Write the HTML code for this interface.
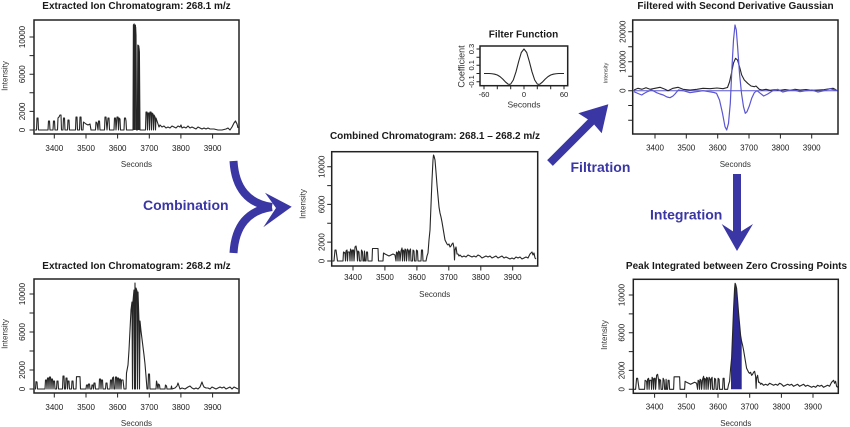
<!DOCTYPE html>
<html><head><meta charset="utf-8"><style>
html,body{margin:0;padding:0;background:#fff;}
svg{display:block;}
text{font-family:"Liberation Sans",Arial,sans-serif;fill:#1a1a1a;}
.t{font-weight:bold;font-size:10px;text-anchor:middle;}
.tk{font-size:8px;text-anchor:middle;fill:#333;}
.box{fill:none;stroke:#222;stroke-width:1.5;}
.ax{stroke:#222;stroke-width:1;fill:none;}
.d{fill:none;stroke:#262626;stroke-width:1.1;stroke-linejoin:round;}
.arrowtxt{font-weight:bold;font-size:14px;fill:#3a36a4;}
</style></head><body>
<svg width="850" height="427" viewBox="0 0 850 427" xmlns="http://www.w3.org/2000/svg">
<rect width="850" height="427" fill="#fff"/>

<!-- ===== Panel 1 (top-left) ===== -->
<text class="t" x="136.5" y="9">Extracted Ion Chromatogram: 268.1 m/z</text>
<path class="d" d="M35,130 L36.5,130 L37,118 L38,118 L38.5,130 L48,130 L48.5,121 L49.5,121 L50,130 L53,130 L53.5,121 L54.5,121 L55,130 L57.5,130 L58,118 L59,117 L60,115 L61,115 L61.5,130 L63,130 L63.5,118 L64.5,118 L65,130 L67.5,130 L68,120 L69,120 L69.5,130 L75.5,130 L76,117 L77,117 L77.5,130 L79.5,130 L80,117 L81,117 L81.5,130 L83,130 L83.5,122 L86,124 L88,125 L90,124 L91,130 L95.5,130 L96,122 L97,123 L98,130 L98.5,121 L99.5,121 L100,130 L104.5,130 L105,117 L106,117 L107,130 L108,118 L109,118 L109.5,130 L114,130 L114.5,118 L115.5,118 L116,130 L117,117 L118,117 L118.5,130 L119,118 L120,119 L120.5,130 L124,130 L124.5,118 L125.5,118 L126,121 L126.5,130 L133,130 L133.4,25 L134.2,24 L134.8,30 L135.4,25 L136,35 L136.5,130 L137.4,130 L137.8,45 L138.8,46 L139.4,52 L140,130 L145.5,130 L146,112 L147,112 L147.5,130 L148,113 L149,113 L149.5,130 L150,112 L151,112 L151.5,130 L152,113 L153,114 L153.5,130 L154,115 L155,117 L155.5,130 L156,118 L157,121 L158,124 L159,127 L160,125 L162,127 L164,126 L166,128 L168,127 L170,128 L172,126 L174,127 L176,128 L178,126 L180,127 L181,125 L182,128 L184,127 L186,128 L188,126 L190,128 L192,127 L194,128 L196,129 L198,127 L200,128 L202,129 L204,128 L206,129 L208,128 L210,129 L214,129 L218,130 L222,130 L226,129 L228,128 L230,130 L232,127 L234,123 L235.5,121 L237,124 L238,128"/>
<path class="d" d="M133.6,130 L134,26 M134.6,130 L135,28 M135.3,130 L135.6,27 M138.2,130 L138.4,46 M139,130 L139,48" />
<rect class="box" x="34" y="20" width="205" height="114"/>
<path class="ax" d="M54.3,134v4.5 M86,134v4.5 M117.6,134v4.5 M149.3,134v4.5 M180.9,134v4.5 M212.6,134v4.5 M34,130h-4.5 M34,111.4h-4.5 M34,92.8h-4.5 M34,74.2h-4.5 M34,55.6h-4.5 M34,37h-4.5"/>
<g class="tk"><text x="54.3" y="151">3400</text><text x="86" y="151">3500</text><text x="117.6" y="151">3600</text><text x="149.3" y="151">3700</text><text x="180.9" y="151">3800</text><text x="212.6" y="151">3900</text></g>
<text class="tk" x="136.5" y="167">Seconds</text>
<g class="tk"><text transform="translate(25,130) rotate(-90)">0</text><text transform="translate(25,111.4) rotate(-90)">2000</text><text transform="translate(25,74.2) rotate(-90)">6000</text><text transform="translate(25,37) rotate(-90)">10000</text></g>
<text class="tk" transform="translate(7.5,76) rotate(-90)">Intensity</text>

<!-- ===== Panel 2 (bottom-left) ===== -->
<text class="t" x="136.5" y="269">Extracted Ion Chromatogram: 268.2 m/z</text>
<path class="d" d="M35,389 L35.5,389 L36,381.7 L37,382 L37.5,389 L45,389 L45.5,380 L46.5,380 L47,389 L47.5,378 L48.5,378 L49,389 L49.5,377 L50.5,377 L51,389 L51.5,379 L52.5,379 L53,389 L53.5,381 L54.5,381 L55,389 L56.5,389 L57,381 L58,381 L58.5,389 L62.5,389 L63,376 L64,376 L64.5,389 L65.5,389 L66,378 L67,378 L67.5,389 L68,381 L69,381 L69.5,389 L71.5,389 L72,381 L73,381 L73.5,389 L76,389 L76.5,376.7 L80,376.7 L80.5,389 L86,389 L86.5,385 L87.5,385 L88,389 L88.5,384 L89.5,384 L90,389 L91.5,389 L92,385 L93,385 L93.5,389 L94,383 L95,383 L95.5,389 L99,389 L99.5,379 L100.5,379 L101,389 L101.5,380 L102.5,380 L103,389 L105.5,389 L106,383 L107,383 L107.5,389 L110,389 L110.5,380 L111.5,380 L112,389 L112.5,378 L113.5,377 L114,389 L115,389 L115.5,377 L116.5,377 L117,389 L117.5,378 L118.5,378 L119,389 L119.5,379 L120.5,379 L121,389 L121.5,380 L123,380 L124,389 L126,389 L126.5,373 L128,365 L129,350 L130,330 L131,310 L132,302 L132.5,389 L133,301 L134,290 L134.5,389 L135,283 L135.5,389 L136,288 L137,291 L137.5,389 L138,292 L139,322 L139.5,389 L140,321 L141,331 L142,339 L143,347 L144,355 L145,364 L146,376 L147,389 L148,389 L148.5,374 L149.5,374 L150,389 L156,389 L156.5,381 L157,383 L158,389 L158.5,384 L159.5,385 L160,389 L165,389 L165.5,385 L166.5,386 L167,389 L171,389 L171.5,386 L172,389 L175,388 L177,386 L178,383 L179,386 L180,389 L182,388 L185,389 L188,387 L190,386 L192,388 L194,389 L196,388 L198,389 L200,387 L202,382 L203,385 L204,387 L206,388 L208,388 L210,389 L212,387 L214,388 L216,389 L218,388 L220,387 L222,388 L224,387 L226,389 L228,388 L230,387 L232,389 L234,387 L236,388 L238,389"/>
<rect class="box" x="34" y="279" width="205" height="114"/>
<path class="ax" d="M54.3,393v4.5 M86,393v4.5 M117.6,393v4.5 M149.3,393v4.5 M180.9,393v4.5 M212.6,393v4.5 M34,389h-4.5 M34,370h-4.5 M34,351h-4.5 M34,332h-4.5 M34,313h-4.5 M34,294h-4.5"/>
<g class="tk"><text x="54.3" y="410">3400</text><text x="86" y="410">3500</text><text x="117.6" y="410">3600</text><text x="149.3" y="410">3700</text><text x="180.9" y="410">3800</text><text x="212.6" y="410">3900</text></g>
<text class="tk" x="136.5" y="426">Seconds</text>
<g class="tk"><text transform="translate(25,389) rotate(-90)">0</text><text transform="translate(25,370) rotate(-90)">2000</text><text transform="translate(25,332) rotate(-90)">6000</text><text transform="translate(25,294) rotate(-90)">10000</text></g>
<text class="tk" transform="translate(7.5,334) rotate(-90)">Intensity</text>

<!-- ===== Panel 3 (middle) ===== -->
<text class="t" x="435" y="139">Combined Chromatogram: 268.1 – 268.2 m/z</text>
<path id="comb" class="d" d="M332.5,261 L334,261 L335,250 L336,250 L337.5,261 L343,261 L343.5,252 L345,253 L345.5,261 L346,251 L347,250 L347.5,261 L348,252 L349.5,252 L350,261 L350.5,249 L351.5,251 L352,261 L352.5,250 L353.5,250 L354,261 L355,247 L356,246 L357,252 L357.5,261 L358,251 L359,252 L359.5,261 L361,261 L361.5,250 L362.5,252 L363,261 L364,261 L364.5,251 L365,261 L366,261 L366.5,252 L367.5,252 L368,261 L372,261 L372.5,248.5 L378,248.5 L378.5,261 L383,261 L383.5,253 L385,254 L387,255 L389,256 L391,255 L393,254 L395,255 L396,261 L396.5,252 L397.5,253 L398,261 L398.5,251 L399.5,252 L400,261 L401,251 L402,248 L402.5,261 L403,250 L404,251 L404.5,261 L405,249 L406,250 L406.5,261 L407.5,249 L408.5,251 L409,261 L409.5,251 L410.5,249 L411,261 L412.5,261 L413,250 L414,251 L414.5,261 L416,261 L416.5,250 L417.5,251 L418,261 L421,261 L421.5,250 L422.5,250 L423,261 L426,261 L427,256 L428,253 L429,240 L430,230 L431,205 L432,180 L433,160 L433.5,155 L434,156 L435,160 L436,172 L437,185 L438,196 L439,207 L440,213 L441,217 L442,222 L443,228 L444,234 L445,240 L446,242 L447,244 L448,245 L449,244 L450,247 L451,246 L452,244 L453,243 L454,248 L454.5,260 L455,250 L456,247 L457,254 L458,254 L459,256 L460,255 L462,257 L464,256 L466,257 L468,255 L470,256 L472,257 L474,256 L476,257 L478,255 L480,256 L482,258 L484,257 L486,256 L488,257 L490,256 L492,258 L494,257 L496,256 L498,258 L500,257 L502,256 L504,258 L506,257 L508,258 L510,259 L512,258 L514,259 L516,257 L518,258 L520,257 L522,259 L524,258 L526,257 L528,258 L530,254 L532,252 L533,255 L534,253 L535,258 L536,259"/>
<rect class="box" x="331.7" y="151.7" width="206" height="114.3"/>
<path class="ax" d="M353,266v4.5 M384.9,266v4.5 M416.9,266v4.5 M448.8,266v4.5 M480.8,266v4.5 M512.7,266v4.5 M331.7,261h-4.5 M331.7,242.1h-4.5 M331.7,223.3h-4.5 M331.7,204.4h-4.5 M331.7,185.6h-4.5 M331.7,166.7h-4.5"/>
<g class="tk"><text x="353" y="280">3400</text><text x="384.9" y="280">3500</text><text x="416.9" y="280">3600</text><text x="448.8" y="280">3700</text><text x="480.8" y="280">3800</text><text x="512.7" y="280">3900</text></g>
<text class="tk" x="434.7" y="297">Seconds</text>
<g class="tk"><text transform="translate(324.5,261) rotate(-90)">0</text><text transform="translate(324.5,242.1) rotate(-90)">2000</text><text transform="translate(324.5,204.4) rotate(-90)">6000</text><text transform="translate(324.5,166.7) rotate(-90)">10000</text></g>
<text class="tk" transform="translate(305.5,204) rotate(-90)">Intensity</text>

<!-- ===== Filter function inset ===== -->
<text class="t" x="523.5" y="37.5">Filter Function</text>
<path class="d" d="M484,73.5 L486.7,73.5 L489.3,73.5 L492,73.75 L494.7,74.2 L497.3,75 L500,76.6 L502.7,79 L505.3,81.8 L508,84.1 L509.3,84.4 L510.7,84 L513.3,80 L516,71.8 L518.7,61.4 L521.3,52.5 L524,49 L526.7,52.5 L529.3,61.4 L532,71.8 L534.7,80 L537.3,84 L538.7,84.4 L540,84.1 L542.7,81.8 L545.3,79 L548,76.6 L550.7,75 L553.3,74.2 L556,73.75 L558.7,73.5 L564,73.5"/>
<rect class="box" x="480" y="46" width="87.7" height="39.7"/>
<path class="ax" d="M484,85.7v3.5 M497.3,85.7v3.5 M510.7,85.7v3.5 M524,85.7v3.5 M537.3,85.7v3.5 M550.7,85.7v3.5 M564,85.7v3.5 M480,81.7h-3.5 M480,73.5h-3.5 M480,65.3h-3.5 M480,57.2h-3.5 M480,49h-3.5"/>
<g style="font-size:7.5px;text-anchor:middle;fill:#333"><text x="484" y="97">-60</text><text x="524" y="97">0</text><text x="564" y="97">60</text></g>
<text x="524" y="107.5" style="font-size:8.5px;text-anchor:middle;fill:#333">Seconds</text>
<g style="font-size:7.5px;text-anchor:middle;fill:#333"><text transform="translate(474,49) rotate(-90)">0.3</text><text transform="translate(474,65.3) rotate(-90)">0.1</text><text transform="translate(474,81.7) rotate(-90)">-0.1</text></g>
<text transform="translate(464.5,66.5) rotate(-90)" style="font-size:9px;text-anchor:middle;fill:#333">Coefficient</text>

<!-- ===== Panel 4 (filtered) ===== -->
<text class="t" x="735.5" y="9">Filtered with Second Derivative Gaussian</text>
<line x1="633" y1="90.7" x2="838" y2="90.7" stroke="#5a55d2" stroke-width="1"/>
<path class="d" d="M634,90 L638,88.3 L642,89.3 L646,87.7 L650,89.3 L655,88.3 L660,87.3 L665,89.3 L668,90.7 L673,88.3 L678,87.3 L683,89.3 L690,90 L697,89.3 L703,88.3 L710,88.7 L717,88 L723,88.7 L727.5,87.5 L729.5,82 L731.5,73 L733.5,63 L735.5,58.3 L737.5,60 L739.5,66.7 L741.7,75 L744.3,80 L747.7,83.3 L751,86 L754.3,86.7 L756,86 L759.3,89.3 L762,90 L766,89.3 L770,90.3 L775,89.7 L780,90.3 L785,89.5 L790,90.3 L795,89.3 L800,90 L806,89.5 L812,90.3 L818,90 L824,89.7 L830,88.7 L833,88.3 L836,89.7"/>
<path fill="none" stroke="#5a55d2" stroke-width="1.2" stroke-linejoin="round" d="M634,91.7 L638,93.5 L641.7,95 L644,93.5 L646.7,92 L651.7,90 L656.7,92.7 L660,94 L663.3,95 L667,97 L670,97.7 L673,96 L675,94 L678.3,90 L683.3,90.7 L690,92.7 L696.7,91.7 L703,90.7 L709,91.7 L714,92.5 L716.5,93.3 L719.5,100 L722.5,113.3 L725,126.7 L726.7,130 L728.5,123.3 L730.3,103.3 L732,66.7 L733.5,40 L735,25 L736.3,30 L737.6,46.7 L739.5,73.3 L741.5,93.3 L743.5,106.7 L745.3,113.3 L747,111.7 L749.3,106 L751.7,98.3 L754.3,92.7 L757,90.7 L760.3,93.3 L763.7,96 L767.7,94 L772.7,90.7 L777.7,89.3 L782.7,92 L788,90.7 L794,90 L800,91.7 L806,90.7 L812,90 L818,92 L824,90.7 L830,88.7 L833,89.5 L837,90.3"/>
<rect class="box" x="632.7" y="20" width="205.3" height="114"/>
<path class="ax" d="M655,134v4.5 M686.3,134v4.5 M717.7,134v4.5 M749,134v4.5 M780.4,134v4.5 M811.7,134v4.5 M632.7,31.7h-4.5 M632.7,46.7h-4.5 M632.7,61.7h-4.5 M632.7,76.2h-4.5 M632.7,90.7h-4.5 M632.7,105.5h-4.5 M632.7,120.3h-4.5"/>
<g class="tk"><text x="655" y="150.5">3400</text><text x="686.3" y="150.5">3500</text><text x="717.7" y="150.5">3600</text><text x="749" y="150.5">3700</text><text x="780.4" y="150.5">3800</text><text x="811.7" y="150.5">3900</text></g>
<text class="tk" x="735.3" y="167">Seconds</text>
<g class="tk"><text transform="translate(625.5,90.7) rotate(-90)">0</text><text transform="translate(625.5,61.7) rotate(-90)">10000</text><text transform="translate(625.5,31.7) rotate(-90)">20000</text></g>
<text transform="translate(607.5,73) rotate(-90)" style="font-size:5.5px;text-anchor:middle;fill:#333">Intensity</text>

<!-- ===== Panel 5 (integrated) ===== -->
<text class="t" x="736.5" y="269">Peak Integrated between Zero Crossing Points</text>
<g transform="translate(301.6,128.3)">
<path fill="#2d2994" d="M429.4,261 L429.4,236 L430,230 L431,205 L432,180 L433,160 L433.5,155 L434,156 L435,160 L436,172 L437,185 L438,196 L439,207 L440.1,213 L440.1,261 Z"/>
<use href="#comb"/>
</g>
<rect class="box" x="633.3" y="279.3" width="205" height="114"/>
<path class="ax" d="M654.6,393.3v4.5 M686.3,393.3v4.5 M718,393.3v4.5 M749.7,393.3v4.5 M781.4,393.3v4.5 M813,393.3v4.5 M633.3,389.3h-4.5 M633.3,370.4h-4.5 M633.3,351.6h-4.5 M633.3,332.7h-4.5 M633.3,313.9h-4.5 M633.3,295h-4.5"/>
<g class="tk"><text x="654.6" y="409.5">3400</text><text x="686.3" y="409.5">3500</text><text x="718" y="409.5">3600</text><text x="749.7" y="409.5">3700</text><text x="781.4" y="409.5">3800</text><text x="813" y="409.5">3900</text></g>
<text class="tk" x="735.8" y="426">Seconds</text>
<g class="tk"><text transform="translate(624.5,389.3) rotate(-90)">0</text><text transform="translate(624.5,370.4) rotate(-90)">2000</text><text transform="translate(624.5,332.7) rotate(-90)">6000</text><text transform="translate(624.5,295) rotate(-90)">10000</text></g>
<text class="tk" transform="translate(607,335) rotate(-90)">Intensity</text>

<!-- ===== Arrows ===== -->
<g fill="none" stroke="#3a36a4" stroke-width="8">
<path d="M233.5,161 Q236,202 272,207"/>
<path d="M233.5,253 Q236,212 272,207"/>
<path d="M550,163 L594,119"/>
<path d="M737,174 L737,234"/>
</g>
<g fill="#3a36a4">
<polygon points="265,192.7 291.7,206.7 263.3,227.3 276,208"/>
<polygon points="578.3,113.3 608.3,104.3 601.7,133.3 592,122"/>
<polygon points="721.7,224 737,234 753,224 737,251"/>
</g>
<text class="arrowtxt" x="143" y="210">Combination</text>
<text class="arrowtxt" x="570.5" y="172">Filtration</text>
<text class="arrowtxt" x="650" y="219.5">Integration</text>
</svg>
</body></html>
